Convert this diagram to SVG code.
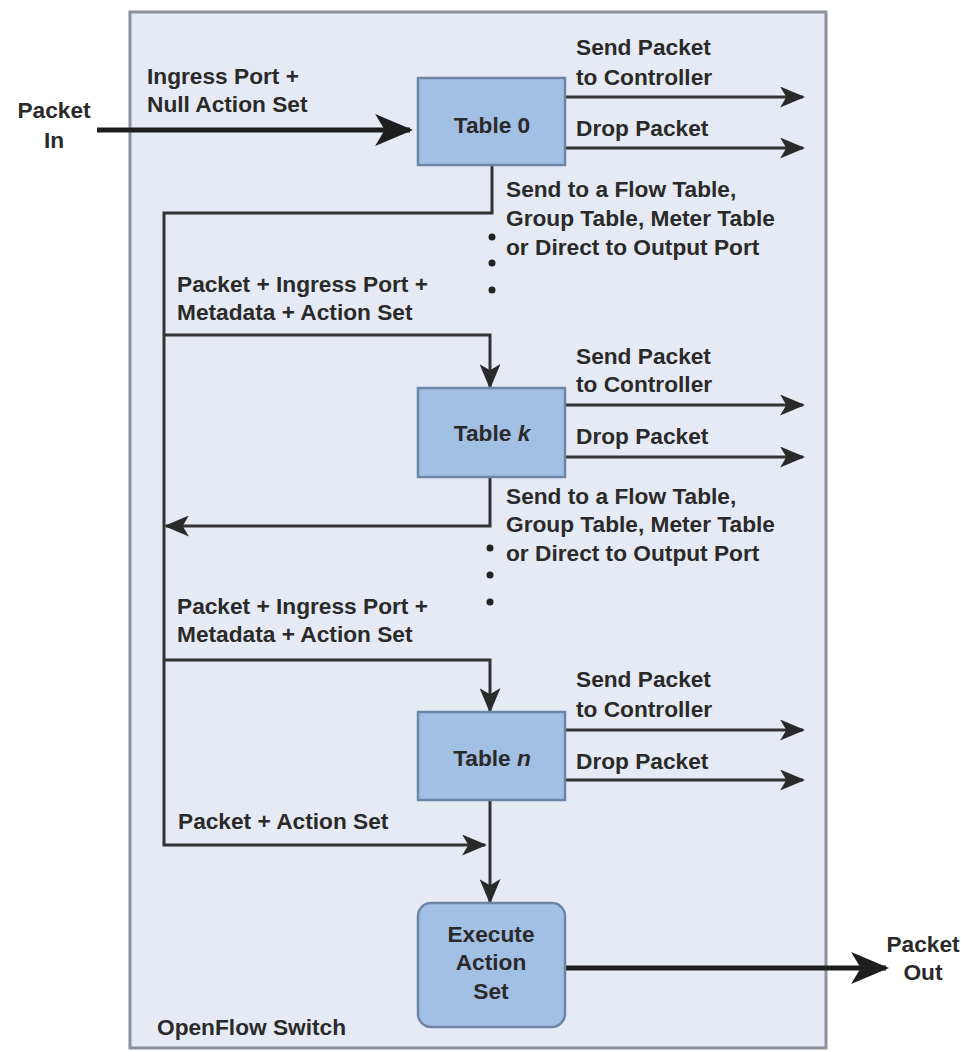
<svg xmlns="http://www.w3.org/2000/svg" width="961" height="1052" viewBox="0 0 961 1052">
<style>
.t{font-family:"Liberation Sans",Arial,sans-serif;font-weight:bold;font-size:22.7px;fill:#2a2a2a}
.c{text-anchor:middle}
.box{fill:#a2bfe4;stroke:#6d86a8;stroke-width:2.5}
.ln{fill:none;stroke:#333;stroke-width:3}
.thick{fill:none;stroke:#1e1e1e;stroke-width:5}
.dot{fill:#222}
</style>
<defs>
<marker id="am" viewBox="0 0 12 12" refX="11" refY="6" markerWidth="25" markerHeight="21" markerUnits="userSpaceOnUse" orient="auto" preserveAspectRatio="none">
<path d="M0,0 L12,6 L0,12 L3,6 z" fill="#2a2a2a"/>
</marker>
<marker id="ab" viewBox="0 0 12 12" refX="11" refY="6" markerWidth="38" markerHeight="32" markerUnits="userSpaceOnUse" orient="auto" preserveAspectRatio="none">
<path d="M0,0 L12,6 L0,12 L3,6 z" fill="#1e1e1e"/>
</marker>
</defs>
<rect width="961" height="1052" fill="#ffffff"/>
<g id="switch">
<rect x="130" y="12" width="696" height="1036" fill="#e6eaf4" stroke="#8c929c" stroke-width="3"/>
<text class="t" x="157" y="1035">OpenFlow Switch</text>
</g>
<g id="connectors">
<line class="thick" x1="97" y1="130" x2="410" y2="130" marker-end="url(#ab)"/>
<line class="ln" x1="565" y1="97" x2="803" y2="97" marker-end="url(#am)"/>
<line class="ln" x1="565" y1="148" x2="803" y2="148" marker-end="url(#am)"/>
<polyline class="ln" points="492,165 492,213 164,213 164,845 485,845" marker-end="url(#am)"/>
<polyline class="ln" points="164,335 490,335 490,387" marker-end="url(#am)"/>
<line class="ln" x1="565" y1="405" x2="803" y2="405" marker-end="url(#am)"/>
<line class="ln" x1="565" y1="457" x2="803" y2="457" marker-end="url(#am)"/>
<polyline class="ln" points="490,477 490,526 166,526" marker-end="url(#am)"/>
<polyline class="ln" points="164,660 490,660 490,711" marker-end="url(#am)"/>
<line class="ln" x1="565" y1="730" x2="803" y2="730" marker-end="url(#am)"/>
<line class="ln" x1="565" y1="780" x2="803" y2="780" marker-end="url(#am)"/>
<line class="ln" x1="490" y1="800" x2="490" y2="902" marker-end="url(#am)"/>
<line class="thick" x1="565" y1="968" x2="886" y2="968" marker-end="url(#ab)"/>
<circle class="dot" cx="492" cy="237" r="3.5"/>
<circle class="dot" cx="492" cy="263" r="3.5"/>
<circle class="dot" cx="492" cy="290" r="3.5"/>
<circle class="dot" cx="490" cy="548" r="3.5"/>
<circle class="dot" cx="490" cy="575" r="3.5"/>
<circle class="dot" cx="490" cy="602" r="3.5"/>
</g>
<g id="labels">
<text class="t c" x="54" y="118">Packet</text>
<text class="t c" x="54" y="148">In</text>
<text class="t" x="147" y="84">Ingress Port +</text>
<text class="t" x="147" y="112">Null Action Set</text>
<text class="t" x="576" y="55">Send Packet</text>
<text class="t" x="576" y="85">to Controller</text>
<text class="t" x="576" y="136">Drop Packet</text>
<text class="t" x="506" y="197">Send to a Flow Table,</text>
<text class="t" x="506" y="226">Group Table, Meter Table</text>
<text class="t" x="506" y="255">or Direct to Output Port</text>
<text class="t" x="177" y="292">Packet + Ingress Port +</text>
<text class="t" x="177" y="320">Metadata + Action Set</text>
<text class="t" x="576" y="364">Send Packet</text>
<text class="t" x="576" y="392">to Controller</text>
<text class="t" x="576" y="444">Drop Packet</text>
<text class="t" x="506" y="504">Send to a Flow Table,</text>
<text class="t" x="506" y="532">Group Table, Meter Table</text>
<text class="t" x="506" y="561">or Direct to Output Port</text>
<text class="t" x="177" y="614">Packet + Ingress Port +</text>
<text class="t" x="177" y="642">Metadata + Action Set</text>
<text class="t" x="576" y="687">Send Packet</text>
<text class="t" x="576" y="717">to Controller</text>
<text class="t" x="576" y="769">Drop Packet</text>
<text class="t" x="178" y="829">Packet + Action Set</text>
<text class="t c" x="923" y="952">Packet</text>
<text class="t c" x="923" y="980">Out</text>
</g>
<g id="table0">
<rect class="box" x="418" y="78" width="147" height="87"/>
<text class="t c" x="492" y="133">Table 0</text>
</g>
<g id="tablek">
<rect class="box" x="418" y="388" width="147" height="89"/>
<text class="t c" x="492" y="441">Table <tspan font-style="italic">k</tspan></text>
</g>
<g id="tablen">
<rect class="box" x="418" y="712" width="147" height="88"/>
<text class="t c" x="492" y="766">Table <tspan font-style="italic">n</tspan></text>
</g>
<g id="execute">
<rect class="box" x="418" y="903" width="147" height="124" rx="13"/>
<text class="t c" x="491" y="942">Execute</text>
<text class="t c" x="491" y="970">Action</text>
<text class="t c" x="491" y="999">Set</text>
</g>
</svg>
